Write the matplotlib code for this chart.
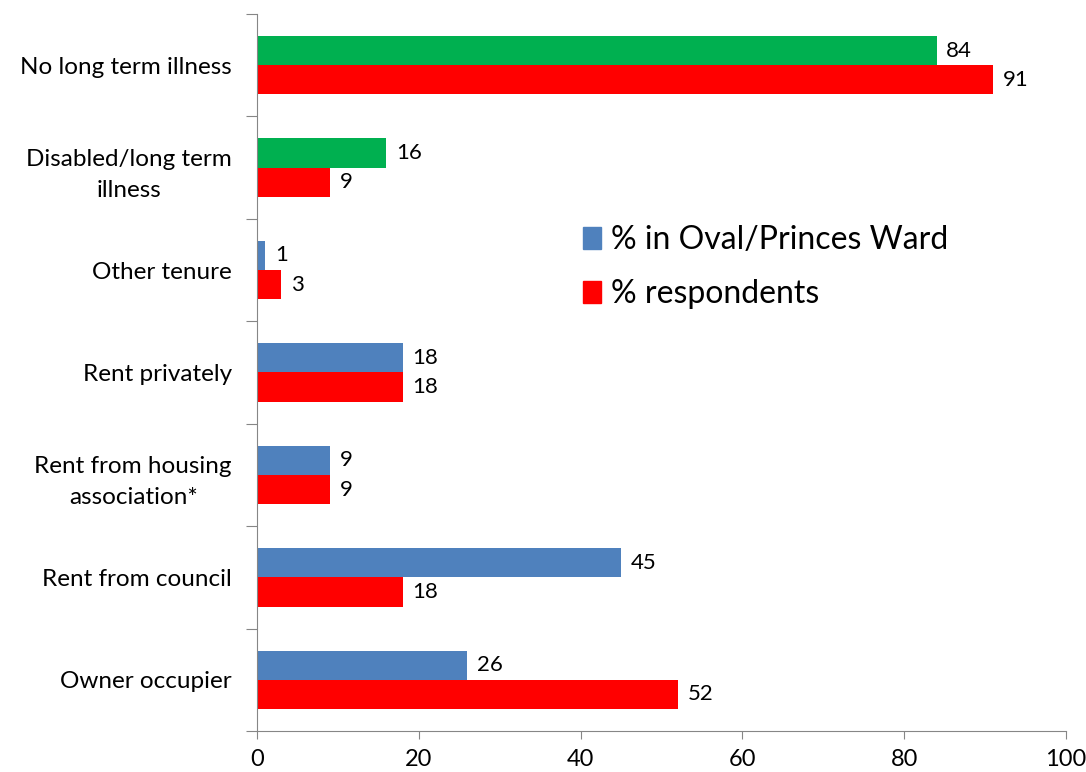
import numpy as np
import matplotlib.pyplot as plt
from matplotlib.patches import Patch

plt.rcParams['font.family'] = ['Lato', 'DejaVu Sans']

# categories bottom to top
categories = ['Owner occupier', 'Rent from council', 'Rent from housing\nassociation*',
              'Rent privately', 'Other tenure', 'Disabled/long term\nillness',
              'No long term illness']
ward = [26, 45, 9, 18, 1, 16, 84]
respondents = [52, 18, 9, 18, 3, 9, 91]
ward_colors = ['#4F81BD'] * 5 + ['#00B050'] * 2
red = '#FF0000'
grey = '#868686'

fig = plt.figure(figsize=(10.86, 7.72), dpi=100)
ax = fig.add_axes([0.2366, 0.0531, 0.745, 0.9288])

y = np.arange(len(categories))
h = 0.285
ax.barh(y + h / 2, ward, height=h, color=ward_colors)
ax.barh(y - h / 2, respondents, height=h, color=red)

for yi, v in zip(y, ward):
    ax.text(v + 1.2, yi + h / 2, str(v), va='center', ha='left', fontsize=16)
for yi, v in zip(y, respondents):
    ax.text(v + 1.2, yi - h / 2, str(v), va='center', ha='left', fontsize=16)

ax.set_xlim(0, 100)
ax.set_ylim(-0.5, len(categories) - 0.5)
ax.set_xticks(np.arange(0, 101, 20))
ax.tick_params(axis='x', labelsize=17, length=6, color=grey, pad=7)

ax.set_yticks(np.arange(-0.5, len(categories), 1.0))
ax.set_yticklabels([])
ax.tick_params(axis='y', which='major', length=8, color=grey)
ax.set_yticks(y, minor=True)
ax.set_yticklabels(categories, minor=True, fontsize=17.5)
ax.tick_params(axis='y', which='minor', length=0, pad=18)
for lab in ax.get_yticklabels(minor=True):
    lab.set_multialignment('center')
    lab.set_linespacing(1.6)

for s in ['top', 'right']:
    ax.spines[s].set_visible(False)
for s in ['left', 'bottom']:
    ax.spines[s].set_color(grey)

handles = [Patch(color='#4F81BD', label='% in Oval/Princes Ward'),
           Patch(color=red, label='% respondents')]
ax.legend(handles=handles, loc='center left', bbox_to_anchor=(0.368, 0.647),
          frameon=False, fontsize=23, handlelength=0.55, handleheight=0.7,
          handletextpad=0.3, labelspacing=0.75)

fig.savefig('out.png', dpi=100)
